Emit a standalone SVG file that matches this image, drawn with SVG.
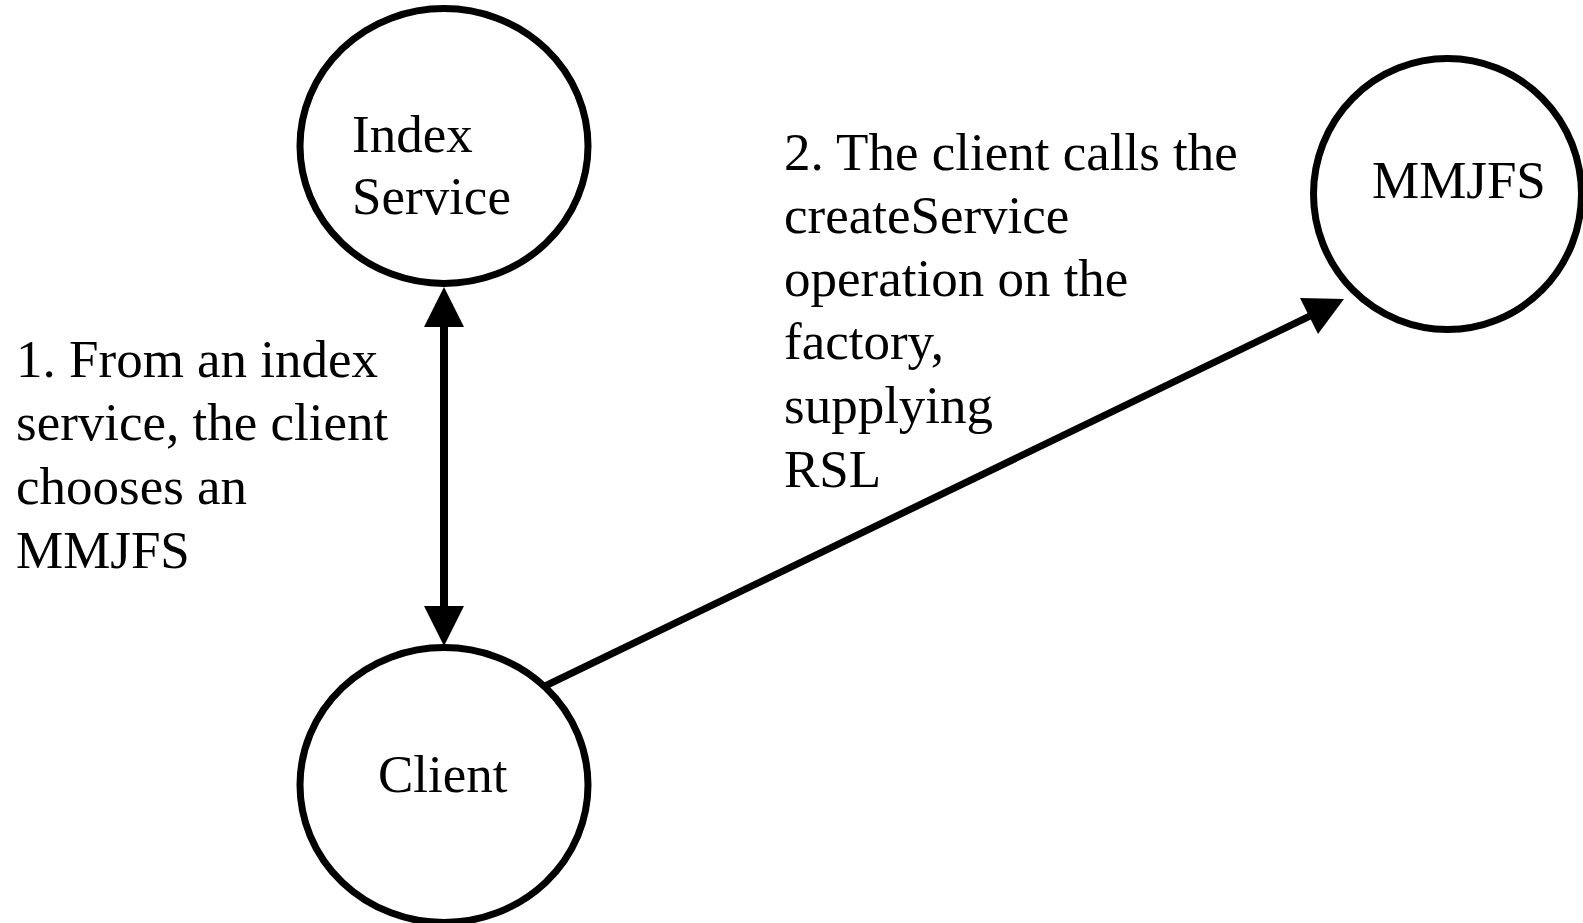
<svg xmlns="http://www.w3.org/2000/svg" width="1583" height="923" viewBox="0 0 1583 923">
<defs>
<style>
.node{fill:#fff;stroke:#000;stroke-width:7}
.t{font-family:"Liberation Serif","Times New Roman",serif;font-size:53px;fill:#000}
.edge{stroke:#000;fill:none}
.head{fill:#000;stroke:none}
</style>
</defs>
<rect width="1583" height="923" fill="#fff"/>
<g id="connectors">
<line class="edge" x1="444" y1="326" x2="444" y2="607" stroke-width="8"/>
<polygon class="head" points="444,287 424,327 464,327"/>
<polygon class="head" points="444,646 424,606 464,606"/>
<line class="edge" x1="543" y1="687" x2="1310" y2="316" stroke-width="7"/>
<polygon class="head" points="1344,299 1300,298 1318,334"/>
</g>
<g id="node-index-service">
<ellipse class="node" cx="444" cy="146" rx="144" ry="137.5"/>
<text class="t" x="352" y="152">Index</text>
<text class="t" x="352" y="214">Service</text>
</g>
<g id="node-client">
<ellipse class="node" cx="444" cy="785" rx="144" ry="137.5"/>
<text class="t" x="378" y="792">Client</text>
</g>
<g id="node-mmjfs">
<ellipse class="node" cx="1447.5" cy="194" rx="134" ry="135.5"/>
<text class="t" x="1372" y="198">MMJFS</text>
</g>
<g id="label-1">
<text class="t" x="16" y="377">1. From an index</text>
<text class="t" x="16" y="440">service, the client</text>
<text class="t" x="16" y="504">chooses an</text>
<text class="t" x="16" y="568">MMJFS</text>
</g>
<g id="label-2">
<text class="t" x="784" y="170">2. The client calls the</text>
<text class="t" x="784" y="233">createService</text>
<text class="t" x="784" y="296">operation on the</text>
<text class="t" x="784" y="359">factory,</text>
<text class="t" x="784" y="423">supplying</text>
<text class="t" x="784" y="487">RSL</text>
</g>
</svg>
